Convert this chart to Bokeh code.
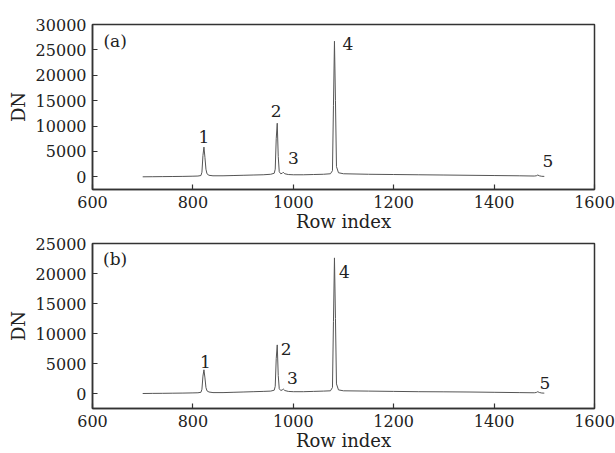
from bokeh.plotting import figure
from bokeh.layouts import column
from bokeh.models import ColumnDataSource, FixedTicker, Range1d
from bokeh.embed import file_html
from bokeh.resources import INLINE
from bokeh.core.properties import value

rows = [700, 720, 740, 760, 780, 800, 810, 816, 818, 820, 822, 824, 826, 828, 832, 840,
        860, 880, 900, 920, 940, 955, 962, 964, 966, 968, 970, 972, 975, 978, 980, 983,
        990, 1000, 1020, 1040, 1060, 1074, 1078, 1080, 1082, 1084, 1086, 1090, 1100, 1150,
        1200, 1250, 1300, 1350, 1400, 1450, 1480, 1484, 1487, 1490, 1495, 1500]

dn_a = [0, 20, 40, 60, 80, 120, 150, 250, 900, 4200, 5850, 3800, 1500, 600, 300, 200,
        200, 250, 300, 350, 400, 500, 700, 1500, 7500, 10550, 4000, 1000, 600, 700, 900, 600,
        450, 400, 400, 450, 500, 600, 1200, 14000, 26700, 15000, 2000, 800, 600, 500,
        450, 400, 350, 300, 250, 200, 150, 200, 350, 200, 100, 80]

dn_b = [0, 20, 30, 50, 70, 100, 120, 200, 700, 2900, 3950, 2600, 1000, 450, 250, 150,
        150, 200, 250, 300, 350, 400, 550, 1200, 5800, 8100, 3000, 800, 500, 600, 750, 500,
        350, 300, 300, 350, 400, 450, 1000, 12000, 22600, 12500, 1600, 600, 450, 400,
        350, 300, 280, 250, 200, 150, 120, 170, 300, 170, 80, 60]

x_ticks = [600, 800, 1000, 1200, 1400, 1600]
y_ticks_a = [0, 5000, 10000, 15000, 20000, 25000, 30000]
y_ticks_b = [0, 5000, 10000, 15000, 20000, 25000]

labels_a_text = ["(a)", "1", "2", "3", "4", "5"]
labels_a_x = [645, 822, 966, 1000, 1109, 1507]
labels_a_y = [26800, 7750, 13000, 3650, 26100, 3050]

labels_b_text = ["(b)", "1", "2", "3", "4", "5"]
labels_b_x = [645, 825, 986, 998, 1102, 1501]
labels_b_y = [22370, 5320, 7380, 2660, 20270, 1730]

FONT = "DejaVu Serif"


def make_panel(dn, y_ticks, ymax, lab_text, lab_x, lab_y, top_border, bottom_border, height):
    p = figure(width=615, height=height, output_backend="svg", toolbar_location=None,
               x_range=Range1d(600, 1600), y_range=Range1d(-2500, ymax))
    p.min_border_left = 92
    p.min_border_right = 21
    p.min_border_top = top_border
    p.min_border_bottom = bottom_border
    p.xgrid.visible = False
    p.ygrid.visible = False
    p.outline_line_color = "#333333"
    p.outline_line_width = 1.5
    p.background_fill_color = "white"
    p.border_fill_color = "white"

    p.line(rows, dn, line_color="#555555", line_width=1)

    src = ColumnDataSource(dict(x=lab_x, y=lab_y, t=lab_text))
    p.text(x="x", y="y", text="t", source=src, text_font=value(FONT),
           text_font_size="17px", text_align="center", text_baseline="middle",
           text_color="#222222")

    for ax in (p.xaxis[0], p.yaxis[0]):
        ax.major_tick_in = 5
        ax.major_tick_out = 0
        ax.minor_tick_in = 0
        ax.minor_tick_out = 0
        ax.axis_line_color = "#333333"
        ax.axis_line_width = 1.5
        ax.major_tick_line_color = "#333333"
        ax.major_tick_line_width = 1.2
        ax.major_label_text_font = FONT
        ax.major_label_text_font_size = "16px"
        ax.major_label_text_color = "#222222"
        ax.axis_label_text_font = FONT
        ax.axis_label_text_font_size = "18px"
        ax.axis_label_text_font_style = "normal"
        ax.axis_label_text_color = "#222222"

    p.xaxis[0].ticker = FixedTicker(ticks=x_ticks)
    p.yaxis[0].ticker = FixedTicker(ticks=y_ticks)
    p.xaxis[0].axis_label = "Row index"
    p.yaxis[0].axis_label = "DN"
    p.xaxis[0].major_label_standoff = 6
    p.xaxis[0].axis_label_standoff = 0
    p.yaxis[0].major_label_standoff = 6
    p.yaxis[0].axis_label_standoff = 4
    return p


pa = make_panel(dn_a, y_ticks_a, 30000, labels_a_text, labels_a_x, labels_a_y, 24, 45, 234)
pb = make_panel(dn_b, y_ticks_b, 25000, labels_b_text, labels_b_x, labels_b_y, 9, 44, 219)

layout = column(pa, pb, spacing=0)
open("out.html", "w").write(file_html(layout, INLINE))
